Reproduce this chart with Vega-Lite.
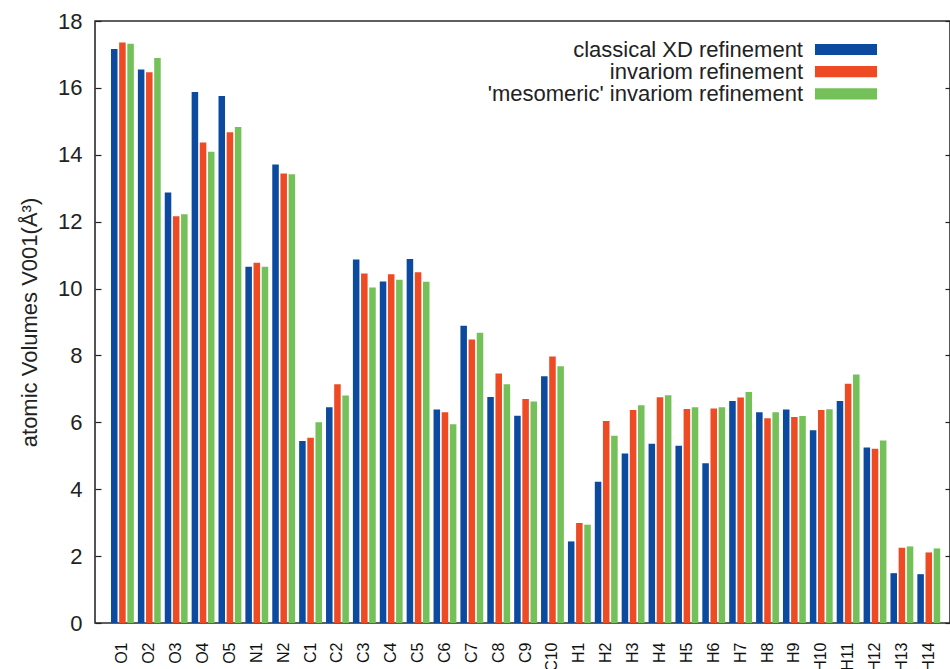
{
  "$schema": "https://vega.github.io/schema/vega-lite/v6.json",
  "width": 855,
  "height": 602,
  "autosize": {"type": "none"},
  "padding": {"left": 95, "top": 21, "right": 0, "bottom": 46},
  "background": "white",
  "config": {
    "view": {"stroke": "#2b2b2b", "strokeWidth": 1.6},
    "font": "Liberation Sans"
  },
  "data": {
    "values": [
      {"a": "O1", "m": "XD", "v": 17.16}, {"a": "O1", "m": "INV", "v": 17.36}, {"a": "O1", "m": "MESO", "v": 17.32},
      {"a": "O2", "m": "XD", "v": 16.55}, {"a": "O2", "m": "INV", "v": 16.47}, {"a": "O2", "m": "MESO", "v": 16.89},
      {"a": "O3", "m": "XD", "v": 12.87}, {"a": "O3", "m": "INV", "v": 12.16}, {"a": "O3", "m": "MESO", "v": 12.22},
      {"a": "O4", "m": "XD", "v": 15.88}, {"a": "O4", "m": "INV", "v": 14.37}, {"a": "O4", "m": "MESO", "v": 14.09},
      {"a": "O5", "m": "XD", "v": 15.76}, {"a": "O5", "m": "INV", "v": 14.67}, {"a": "O5", "m": "MESO", "v": 14.83},
      {"a": "N1", "m": "XD", "v": 10.65}, {"a": "N1", "m": "INV", "v": 10.77}, {"a": "N1", "m": "MESO", "v": 10.65},
      {"a": "N2", "m": "XD", "v": 13.71}, {"a": "N2", "m": "INV", "v": 13.44}, {"a": "N2", "m": "MESO", "v": 13.42},
      {"a": "C1", "m": "XD", "v": 5.44}, {"a": "C1", "m": "INV", "v": 5.54}, {"a": "C1", "m": "MESO", "v": 6.0},
      {"a": "C2", "m": "XD", "v": 6.45}, {"a": "C2", "m": "INV", "v": 7.14}, {"a": "C2", "m": "MESO", "v": 6.8},
      {"a": "C3", "m": "XD", "v": 10.87}, {"a": "C3", "m": "INV", "v": 10.45}, {"a": "C3", "m": "MESO", "v": 10.03},
      {"a": "C4", "m": "XD", "v": 10.21}, {"a": "C4", "m": "INV", "v": 10.43}, {"a": "C4", "m": "MESO", "v": 10.26},
      {"a": "C5", "m": "XD", "v": 10.88}, {"a": "C5", "m": "INV", "v": 10.49}, {"a": "C5", "m": "MESO", "v": 10.2},
      {"a": "C6", "m": "XD", "v": 6.38}, {"a": "C6", "m": "INV", "v": 6.3}, {"a": "C6", "m": "MESO", "v": 5.94},
      {"a": "C7", "m": "XD", "v": 8.89}, {"a": "C7", "m": "INV", "v": 8.48}, {"a": "C7", "m": "MESO", "v": 8.68},
      {"a": "C8", "m": "XD", "v": 6.76}, {"a": "C8", "m": "INV", "v": 7.46}, {"a": "C8", "m": "MESO", "v": 7.14},
      {"a": "C9", "m": "XD", "v": 6.2}, {"a": "C9", "m": "INV", "v": 6.7}, {"a": "C9", "m": "MESO", "v": 6.62},
      {"a": "C10", "m": "XD", "v": 7.38}, {"a": "C10", "m": "INV", "v": 7.97}, {"a": "C10", "m": "MESO", "v": 7.68},
      {"a": "H1", "m": "XD", "v": 2.44}, {"a": "H1", "m": "INV", "v": 2.99}, {"a": "H1", "m": "MESO", "v": 2.94},
      {"a": "H2", "m": "XD", "v": 4.22}, {"a": "H2", "m": "INV", "v": 6.04}, {"a": "H2", "m": "MESO", "v": 5.6},
      {"a": "H3", "m": "XD", "v": 5.07}, {"a": "H3", "m": "INV", "v": 6.37}, {"a": "H3", "m": "MESO", "v": 6.51},
      {"a": "H4", "m": "XD", "v": 5.36}, {"a": "H4", "m": "INV", "v": 6.75}, {"a": "H4", "m": "MESO", "v": 6.81},
      {"a": "H5", "m": "XD", "v": 5.3}, {"a": "H5", "m": "INV", "v": 6.4}, {"a": "H5", "m": "MESO", "v": 6.45},
      {"a": "H6", "m": "XD", "v": 4.78}, {"a": "H6", "m": "INV", "v": 6.41}, {"a": "H6", "m": "MESO", "v": 6.45},
      {"a": "H7", "m": "XD", "v": 6.64}, {"a": "H7", "m": "INV", "v": 6.74}, {"a": "H7", "m": "MESO", "v": 6.91},
      {"a": "H8", "m": "XD", "v": 6.3}, {"a": "H8", "m": "INV", "v": 6.12}, {"a": "H8", "m": "MESO", "v": 6.3},
      {"a": "H9", "m": "XD", "v": 6.38}, {"a": "H9", "m": "INV", "v": 6.16}, {"a": "H9", "m": "MESO", "v": 6.19},
      {"a": "H10", "m": "XD", "v": 5.76}, {"a": "H10", "m": "INV", "v": 6.37}, {"a": "H10", "m": "MESO", "v": 6.39},
      {"a": "H11", "m": "XD", "v": 6.64}, {"a": "H11", "m": "INV", "v": 7.15}, {"a": "H11", "m": "MESO", "v": 7.43},
      {"a": "H12", "m": "XD", "v": 5.25}, {"a": "H12", "m": "INV", "v": 5.21}, {"a": "H12", "m": "MESO", "v": 5.46},
      {"a": "H13", "m": "XD", "v": 1.49}, {"a": "H13", "m": "INV", "v": 2.25}, {"a": "H13", "m": "MESO", "v": 2.29},
      {"a": "H14", "m": "XD", "v": 1.46}, {"a": "H14", "m": "INV", "v": 2.11}, {"a": "H14", "m": "MESO", "v": 2.23}
    ]
  },
  "layer": [
    {
      "mark": {"type": "bar"},
      "encoding": {
        "x": {
          "field": "a", "type": "nominal", "sort": null,
          "scale": {"paddingInner": 0.15, "paddingOuter": 0.48, "align": 0.62},
          "axis": {"title": null, "labelAngle": 270, "labelFontSize": 16, "labelPadding": 19, "ticks": false, "domain": false, "labelColor": "#111"}
        },
        "xOffset": {"field": "m", "type": "nominal", "sort": ["XD", "INV", "MESO"], "scale": {"paddingInner": 0.2}},
        "y": {
          "field": "v", "type": "quantitative",
          "scale": {"domain": [0, 18], "nice": false},
          "axis": {
            "title": "atomic Volumes V001(Å³)",
            "values": [0, 2, 4, 6, 8, 10, 12, 14, 16, 18],
            "grid": false, "domain": false,
            "tickSize": -6, "tickColor": "#222", "tickWidth": 1.2,
            "labelFontSize": 22, "labelPadding": 19, "labelColor": "#222",
            "titleFontSize": 22, "titleFontWeight": "normal", "titleColor": "#222", "titlePadding": 16
          }
        },
        "color": {
          "field": "m", "type": "nominal",
          "sort": ["XD", "INV", "MESO"],
          "scale": {"domain": ["XD", "INV", "MESO"], "range": ["#0c4a9f", "#ee4a24", "#74c159"]},
          "legend": {
            "orient": "none", "legendX": 740, "legendY": 17.5, "title": null,
            "symbolType": "M-5,-0.9H5V0.9H-5Z", "symbolSize": 154, "symbolStrokeWidth": 0, "symbolOpacity": 1,
            "labelAlign": "right", "labelOffset": -54, "labelFontSize": 22, "labelColor": "#222", "labelLimit": 0,
            "rowPadding": 0.2, "padding": 0,
            "labelExpr": "datum.value == 'XD' ? 'classical XD refinement' : datum.value == 'INV' ? 'invariom refinement' : \"'mesomeric' invariom refinement\""
          }
        }
      }
    },
    {
      "mark": {"type": "bar", "opacity": 0},
      "encoding": {
        "x": {"field": "a", "type": "nominal", "sort": null},
        "y": {
          "field": "v", "type": "quantitative",
          "scale": {"domain": [0, 18], "nice": false},
          "axis": {"orient": "right", "title": null, "labels": false, "domain": false, "grid": false, "tickSize": -5, "tickColor": "#222", "tickWidth": 1.2, "values": [0, 2, 4, 6, 8, 10, 12, 14, 16, 18]}
        }
      }
    }
  ],
  "resolve": {"axis": {"y": "independent"}}
}
